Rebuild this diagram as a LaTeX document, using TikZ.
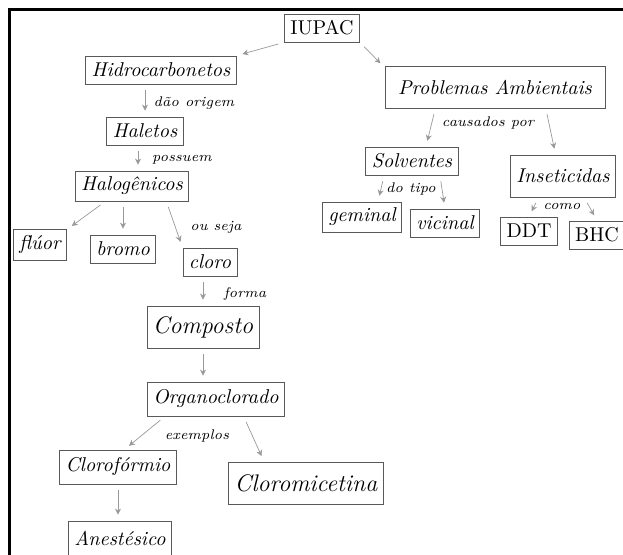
\documentclass[tikz,border=0pt]{standalone}
\usetikzlibrary{arrows.meta,calc}
\tikzset{
  box/.style={draw=black!65, line width=0.4pt, inner sep=3pt, minimum height=14pt, font=\itshape},
  bigbox/.style={box, minimum height=21pt},
  lnk/.style={draw=black!40, line width=0.35pt, -{Stealth[length=3pt,width=3pt]}, shorten <=3pt, shorten >=3pt},
  lbl/.style={font=\scriptsize\itshape, inner sep=1pt}
}
\begin{document}
\begin{tikzpicture}[x=0.5pt,y=-0.5pt]
		\useasboundingbox (0,0) rectangle (623,555);
		% frame
		\draw[line width=1.5pt] (9,555) -- (9,10) -- (623,10);
		% concepts
		\node[box,font=\upshape] (iupac) at (322,28) {IUPAC};
		\node[box] (hidro) at (161,70) {Hidrocarbonetos};
		\node[bigbox,minimum width=110pt] (prob) at (495,87) {Problemas Ambientais};
		\node[box] (haletos) at (145,131) {Haletos};
		\node[box] (halog) at (132,186) {Halogênicos};
		\node[box] (fluor) at (40,245) {flúor};
		\node[box] (bromo) at (123,249) {bromo};
		\node[box] (cloro) at (210,262) {cloro};
		\node[box] (solv) at (412,161) {Solventes};
		\node[bigbox] (inset) at (563,176) {Inseticidas};
		\node[box] (geminal) at (362,217) {geminal};
		\node[box] (vicinal) at (445,223) {vicinal};
		\node[box,font=\upshape] (ddt) at (529,231) {DDT};
		\node[box,font=\upshape] (bhc) at (597,235) {BHC};
		\node[bigbox,font=\large\itshape] (composto) at (203,327) {Composto};
		\node[box,minimum height=17pt] (organo) at (216,399) {Organoclorado};
		\node[box,minimum height=17pt] (clorof) at (118,467) {Clorofórmio};
		\node[bigbox,font=\large\itshape] (cloromic) at (306,483) {Cloromicetina};
		\node[box,minimum height=17pt] (anest) at (120,538) {Anestésico};
		% linking words
		\node[lbl] (l1) at (194,103) {dão origem};
		\node[lbl] (l2) at (182,160) {possuem};
		\node[lbl] (l3) at (216,227) {ou seja};
		\node[lbl] (l4) at (245,294) {forma};
		\node[lbl] (l5) at (197,436) {exemplos};
		\node[lbl] (l6) at (488,123) {causados por};
		\node[lbl] (l7) at (411,189) {do tipo};
		\node[lbl] (l8) at (562,206) {como};
		% arrows
		\draw[lnk] (iupac.south west) -- (hidro.north east);
		\draw[lnk] (iupac.south east) -- (prob.170);
		\draw[lnk] (haletos.north |- hidro.south) -- (haletos.north);
		\draw[lnk] ($(haletos.south)+(-7,0)$) -- ($(halog.north)+(6,0)$);
		\draw[lnk] (halog.210) -- (fluor.north east);
		\draw[lnk] (bromo.north |- halog.south) -- (bromo.north);
		\draw[lnk] ($(halog.south west)!0.8!(halog.south east)$) -- (cloro.north west);
		\draw[lnk] (composto.north |- cloro.south) -- (composto.north);
		\draw[lnk] (composto.south) -- (organo.north -| composto.south);
		\draw[lnk] ($(organo.south west)!0.13!(organo.south east)$) -- (clorof.70);
		\draw[lnk] ($(organo.south west)!0.7!(organo.south east)$) -- ($(cloromic.north west)!0.23!(cloromic.north east)$);
		\draw[lnk] (clorof.south) -- (anest.north -| clorof.south);
		\draw[lnk] ($(prob.south west)!0.23!(prob.south east)$) -- ($(solv.north west)!0.65!(solv.north east)$);
		\draw[lnk] ($(prob.south west)!0.73!(prob.south east)$) -- ($(inset.north west)!0.43!(inset.north east)$);
		\draw[lnk] ($(solv.south west)!0.2!(solv.south east)$) -- ($(geminal.north west)!0.7!(geminal.north east)$);
		\draw[lnk] ($(solv.south west)!0.8!(solv.south east)$) -- ($(vicinal.north west)!0.5!(vicinal.north east)$);
		\draw[lnk] ($(inset.south west)!0.27!(inset.south east)$) -- (ddt.north);
		\draw[lnk] ($(inset.south west)!0.7!(inset.south east)$) -- (bhc.north);
\end{tikzpicture}
\end{document}
